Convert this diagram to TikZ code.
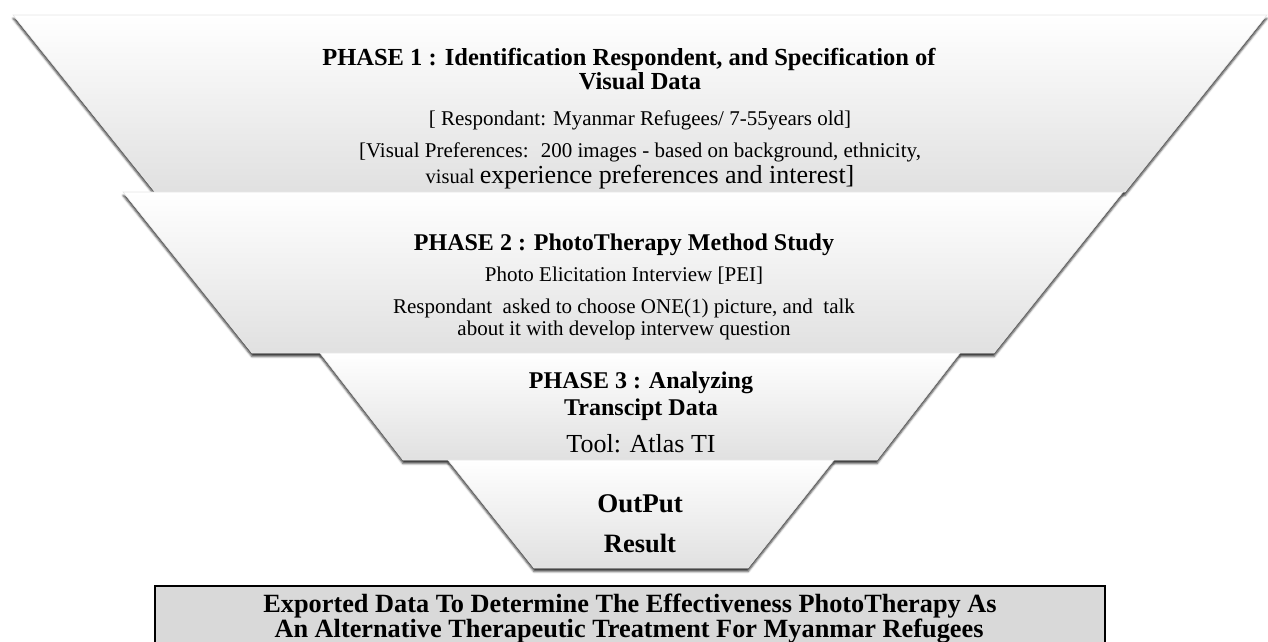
\documentclass[tikz,border=0pt]{standalone}
\usepackage{fontspec}
\setmainfont{Liberation Serif}
\usetikzlibrary{shadows.blur}

\begin{document}
\begin{tikzpicture}[x=1pt,y=-1pt,
                    phase/.style={draw=black!10,line width=0.6pt,top color=white,
                      middle color=black!1.5,bottom color=black!12,
                      blur shadow={shadow xshift=0pt,shadow yshift=-3.5pt,
                        shadow blur radius=2pt,shadow opacity=75}},
                    head/.style={font=\fontsize{24.5}{24.5}\selectfont\bfseries},
                    body/.style={font=\fontsize{21}{21}\selectfont}]
  \tikzstyle{every node}=[anchor=base,inner sep=0pt]
  \useasboundingbox (0,0) rectangle (1268,641);

  % funnel
  \path[phase] (13,15) -- (1267,15) -- (1125,192) -- (155,192) -- cycle;
  \path[phase] (123,192) -- (1123,192) -- (994,353) -- (252,353) -- cycle;
  \path[phase] (320,353) -- (960,353) -- (877,460) -- (403,460) -- cycle;
  \path[phase] (448,460) -- (834,460) -- (748,568) -- (534,568) -- cycle;

  % result box
  \draw[fill=black!15,line width=1.6pt] (155,586) rectangle (1105,690);

  \node[head] (ph1a) at (629,65) {PHASE 1 : Identification Respondent, and Specification of};
  \node[head] (ph1b) at (640,89) {Visual Data};
  \node[body] (resp) at (640,125) {[ Respondant: Myanmar Refugees/ 7-55years old]};
  \node[body] (pref) at (640,157) {[Visual Preferences:~ 200 images - based on background, ethnicity,};
  \node[body] (intr) at (640,183) {\fontsize{20.5}{20.5}\selectfont visual
    \fontsize{26}{26}\selectfont experience preferences and interest]};

  \node[head,font=\fontsize{24}{24}\selectfont\bfseries] (ph2) at (624,250) {PHASE 2 : PhotoTherapy Method Study};
  \node[body] (pei)  at (624,281) {Photo Elicitation Interview [PEI]};
  \node[body] (ask)  at (624,313) {Respondant~ asked to choose ONE(1) picture, and~ talk};
  \node[body] (talk) at (624,335) {about it with develop intervew question};

  \node[head,font=\fontsize{24}{24}\selectfont\bfseries] (ph3a) at (641,388) {PHASE 3 : Analyzing};
  \node[head,font=\fontsize{24}{24}\selectfont\bfseries] (ph3b) at (641,415) {Transcipt Data};
  \node[body,font=\fontsize{26}{26}\selectfont] (tool) at (641,452) {Tool: Atlas TI};

  \node[head,font=\fontsize{27}{27}\selectfont\bfseries] (out) at (640,512) {OutPut};
  \node[head,font=\fontsize{26.5}{26.5}\selectfont\bfseries] (res) at (640,552) {Result};

  \node[head,font=\fontsize{26.3}{26.3}\selectfont\bfseries] (exp1) at (630,612)
    {Exported Data To Determine The Effectiveness PhotoTherapy As};
  \node[head,font=\fontsize{26.3}{26.3}\selectfont\bfseries] (exp2) at (629,637)
    {An Alternative Therapeutic Treatment For Myanmar Refugees};
\end{tikzpicture}
\end{document}
